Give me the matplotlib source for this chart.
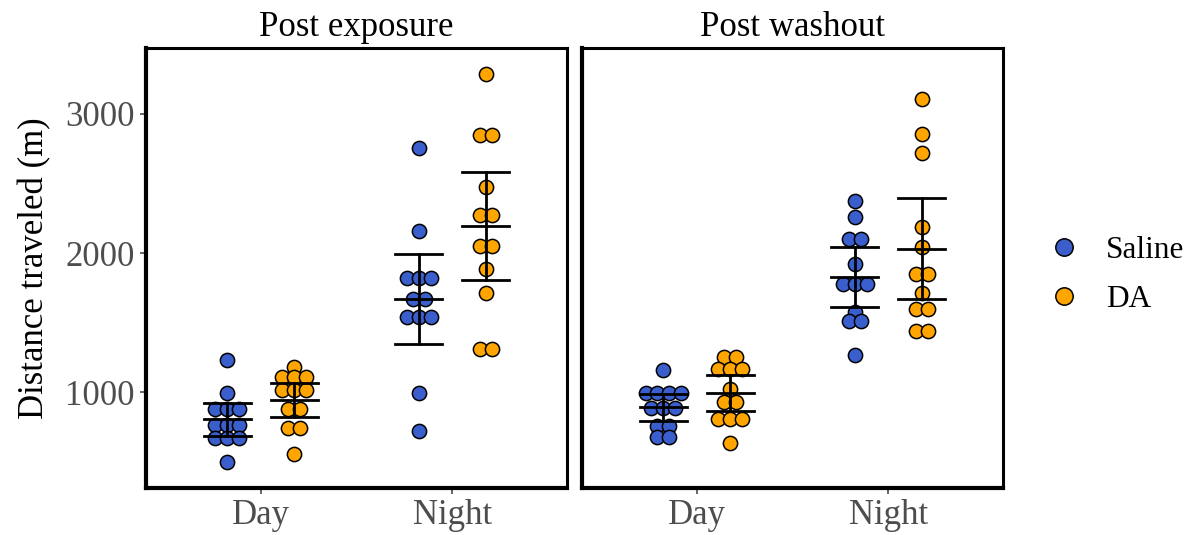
import numpy as np
import matplotlib
matplotlib.use("Agg")
import matplotlib.pyplot as plt
from matplotlib.lines import Line2D

plt.rcParams['font.family'] = ['Liberation Serif', 'DejaVu Serif']

panels = ["Post exposure", "Post washout"]
times = ["Day", "Night"]
groups = ["Saline", "DA"]
colors = {"Saline": "#3A5FCD", "DA": "#FFA500"}

# individual observations (m)
pe_day_saline = [1229, 991, 883, 883, 883, 763, 763, 763, 668, 668, 668, 501]
pe_day_da = [1181, 1110, 1110, 1110, 1019, 1019, 1019, 883, 883, 740, 740, 556]
pe_night_saline = [2754, 2156, 1820, 1820, 1820, 1671, 1671, 1540, 1540, 1540, 993, 720]
pe_night_da = [3285, 2849, 2849, 2477, 2276, 2276, 2047, 2047, 1882, 1712, 1313, 1313]
pw_day_saline = [1158, 998, 998, 998, 998, 890, 890, 890, 760, 760, 675, 675]
pw_day_da = [1253, 1253, 1170, 1170, 1170, 1026, 930, 930, 811, 811, 811, 637]
pw_night_saline = [2376, 2257, 2102, 2102, 1922, 1779, 1779, 1779, 1576, 1511, 1511, 1265]
pw_night_da = [3105, 2854, 2716, 2185, 2042, 1846, 1846, 1712, 1600, 1600, 1439, 1439]

# summary: mean, lower, upper
pe_day_saline_bar = [806, 685, 926]
pe_day_da_bar = [943, 823, 1063]
pe_night_saline_bar = [1671, 1344, 1994]
pe_night_da_bar = [2192, 1808, 2579]
pw_day_saline_bar = [891, 792, 990]
pw_day_da_bar = [995, 866, 1127]
pw_night_saline_bar = [1827, 1612, 2042]
pw_night_da_bar = [2030, 1667, 2396]

data = {
    ("Post exposure", "Day", "Saline"): (pe_day_saline, pe_day_saline_bar),
    ("Post exposure", "Day", "DA"): (pe_day_da, pe_day_da_bar),
    ("Post exposure", "Night", "Saline"): (pe_night_saline, pe_night_saline_bar),
    ("Post exposure", "Night", "DA"): (pe_night_da, pe_night_da_bar),
    ("Post washout", "Day", "Saline"): (pw_day_saline, pw_day_saline_bar),
    ("Post washout", "Day", "DA"): (pw_day_da, pw_day_da_bar),
    ("Post washout", "Night", "Saline"): (pw_night_saline, pw_night_saline_bar),
    ("Post washout", "Night", "DA"): (pw_night_da, pw_night_da_bar),
}

W, H = 1198, 535
fig = plt.figure(figsize=(W / 100, H / 100), dpi=100)

dodge = 0.175
spacing = 0.062
cap = 0.123
grey = "#4D4D4D"
fs = 25

def swarm(vals):
    vals = np.asarray(vals, float)
    offs = np.zeros(len(vals))
    for v in np.unique(vals):
        idx = np.where(vals == v)[0]
        n = len(idx)
        offs[idx] = (np.arange(n) - (n - 1) / 2) * spacing
    return offs

lefts = [146, 582]
for pi, panel in enumerate(panels):
    ax = fig.add_axes([lefts[pi] / W, (H - 488) / H, 421 / W, (488 - 48) / H])
    for ti, t in enumerate(times):
        for gi, g in enumerate(groups):
            vals, bar = data[(panel, t, g)]
            xc = ti + (-dodge if gi == 0 else dodge)
            xs = xc + swarm(vals)
            ax.scatter(xs, vals, s=105, color=colors[g], edgecolor="black",
                       linewidth=1.1, zorder=2)
            mean, lo, hi = bar
            ax.plot([xc, xc], [lo, hi], color="black", lw=2, zorder=3)
            for yv in (mean, lo, hi):
                ax.plot([xc - cap, xc + cap], [yv, yv], color="black", lw=2, zorder=3)
    ax.set_xlim(-0.6, 1.6)
    ax.set_ylim(312, 3473)
    ax.set_xticks(range(len(times)))
    ax.set_xticklabels(times, fontsize=fs, color=grey)
    ax.set_yticks([1000, 2000, 3000])
    ax.tick_params(axis="both", length=4, width=1.2, color=grey, labelcolor=grey,
                   labelsize=fs, pad=4)
    for side in ["top", "right"]:
        ax.spines[side].set_linewidth(2.2)
    for side in ["left", "bottom"]:
        ax.spines[side].set_linewidth(3)
    ax.set_title(panel, fontsize=fs, pad=9)
    if pi == 0:
        ax.set_ylabel("Distance traveled (m)", fontsize=fs, labelpad=10)
    else:
        ax.tick_params(axis="y", left=False, labelleft=False)

handles = [Line2D([], [], marker="o", linestyle="", markersize=12.5,
                  markerfacecolor=colors[g], markeredgecolor="black",
                  markeredgewidth=1.1, label=g) for g in groups]
fig.legend(handles=handles, loc="center left", bbox_to_anchor=(1048 / W, 1 - 275 / H),
           frameon=False, fontsize=22.5, handlelength=1.0, handletextpad=0.85,
           labelspacing=0.65, borderpad=0, borderaxespad=0)

fig.savefig("out.png", dpi=100)
